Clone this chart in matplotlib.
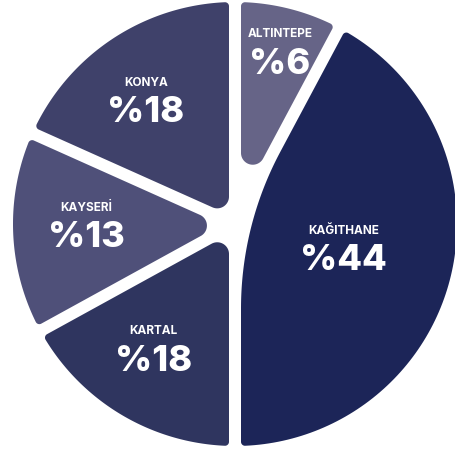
import matplotlib
matplotlib.use("Agg")
import matplotlib.pyplot as plt
import numpy as np
from matplotlib.patches import Polygon

# ─── Datos ────────────────────────────────────────────────────────────────────

names = ['ALTINTEPE', 'KAĞITHANE', 'KARTAL', 'KAYSERİ', 'KONYA']
pct_labels = [6, 44, 18, 13, 18]
# slice sizes as drawn in the picture (%)
shares = [7.8, 42.2, 17.0, 14.7, 18.3]

colors = ['#666487', '#1c2558', '#2f355f', '#4f5079', '#3f416a']

# ─── Estilo ───────────────────────────────────────────────────────────────────

PX = 222.0                  # pie radius in pixels
gap = 6 / PX                # half width of white gap
r_out = 4 / PX              # rounding of outer corners
r_in = [0.053, 1.5, 0.053, 0.053, 0.053]   # rounding at the centre
label_r = [0.824, 0.495, 0.649, 0.671, 0.707]
label_dt = [-0.2, 4.1, -3.7, -3.9, 1.65]

plt.rcParams['font.family'] = ['Inter', 'DejaVu Sans']


def d(a):
    a = np.radians(a)
    return np.array([np.cos(a), np.sin(a)])


def arc(c, p0, p1, n=24):
    a0 = np.arctan2(*(p0 - c)[::-1])
    a1 = np.arctan2(*(p1 - c)[::-1])
    da = (a1 - a0 + np.pi) % (2 * np.pi) - np.pi
    rr = np.linalg.norm(p0 - c)
    t = a0 + da * np.linspace(0, 1, n)
    return np.column_stack([c[0] + rr * np.cos(t), c[1] + rr * np.sin(t)])


def rounded_wedge(t1, t2, R, h, ri, ro):
    th = t2 - t1
    u1, u2 = d(t1), d(t2)
    n1, n2 = d(t1 + 90), d(t2 - 90)
    c_in = d((t1 + t2) / 2) * (h + ri) / np.sin(np.radians(th / 2))
    p1 = (c_in @ u1) * u1 + h * n1
    p2 = (c_in @ u2) * u2 + h * n2
    a = np.sqrt((R - ro) ** 2 - (h + ro) ** 2)
    c1 = a * u1 + (h + ro) * n1
    c2 = a * u2 + (h + ro) * n2
    q1, q2 = a * u1 + h * n1, a * u2 + h * n2
    s1 = c1 / np.linalg.norm(c1) * R
    s2 = c2 / np.linalg.norm(c2) * R
    g1 = np.degrees(np.arctan2(s1[1], s1[0]))
    g2 = np.degrees(np.arctan2(s2[1], s2[0]))
    if g2 < g1:
        g2 += 360
    tt = np.radians(np.linspace(g1, g2, 120))
    outer = np.column_stack([R * np.cos(tt), R * np.sin(tt)])
    pts = [np.array([p1, q1]), arc(c1, q1, s1), outer, arc(c2, s2, q2),
           np.array([q2, p2]), arc(c_in, p2, p1, 60)]
    return np.vstack(pts)


fig = plt.figure(figsize=(4.55, 4.5), dpi=100)
ax = fig.add_axes([0, 0, 1, 1])

wedges, _ = ax.pie(shares, colors=colors, startangle=90, counterclock=False,
                   radius=1.0)

for i, w in enumerate(wedges):
    t1, t2 = w.theta1, w.theta2
    verts = rounded_wedge(t1, t2, w.r, gap, r_in[i], r_out)
    ax.add_patch(Polygon(verts, closed=True, facecolor=w.get_facecolor(),
                         edgecolor='none'))
    w.remove()

    mid = (t1 + t2) / 2 + label_dt[i]
    x, y = label_r[i] * d(mid)
    ax.text(x, y + 0.055, names[i], ha='center', va='center', color='white',
            fontsize=8.5, fontweight='bold')
    ax.text(x, y - 0.081, f'%{pct_labels[i]}', ha='center', va='center',
            color='white', fontsize=26, fontweight='heavy')

ax.set_xlim(-235 / PX, 220 / PX)
ax.set_ylim(-226 / PX, 224 / PX)
ax.set_aspect('equal')
ax.axis('off')

fig.savefig('out.png', dpi=100, facecolor='white')
plt.close(fig)
